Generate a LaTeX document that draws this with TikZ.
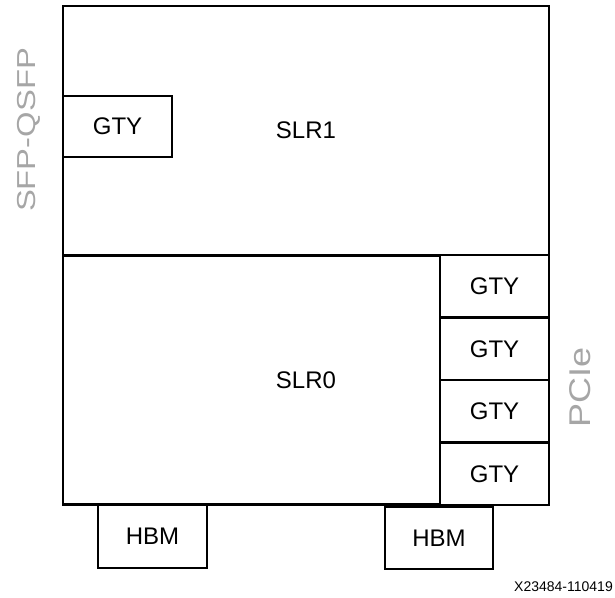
\documentclass[tikz,border=0pt]{standalone}
\usepackage{fontspec}
\setmainfont{Liberation Sans}
\usepackage{graphicx}
\definecolor{sidegray}{RGB}{166,166,166}
\tikzset{
  slrbox/.style = {draw, line width=2.7pt, inner sep=0pt, outer sep=0pt, minimum width=486, minimum height=249, font=\fontsize{24}{28}\selectfont},
  gtybox/.style = {draw, fill=white, line width=2.7pt, inner sep=0pt, outer sep=0pt, minimum width=109, minimum height=62.5, font=\fontsize{24}{28}\selectfont},
  sidelabel/.style = {rotate=90, text=sidegray, inner sep=0pt}
}
\begin{document}
\begin{tikzpicture}[x=1pt,y=-1pt]
    \useasboundingbox (0,0) rectangle (615,597);
    % the two dies
    \node[slrbox](slrOne) at (306,130.5) {SLR1};
    \node[slrbox](slrZero) at (306,380) {SLR0};

    % transceivers
    \node[gtybox, minimum height=61](gtyLeft) at (117.5,126.5) {GTY};
    \node[gtybox](gtyA) at (494.5,286.25) {GTY};
    \node[gtybox](gtyB) at (494.5,348.75) {GTY};
    \node[gtybox](gtyC) at (494.5,411.25) {GTY};
    \node[gtybox](gtyD) at (494.5,473.75) {GTY};

    % memory stacks
    \node[gtybox, minimum height=63](hbmLeft) at (152.5,536.5) {HBM};
    \node[gtybox, minimum width=108, minimum height=62](hbmRight) at (439,538) {HBM};

    % side labels
    \node[sidelabel, font=\fontsize{26}{30}\selectfont](sfp) at (29,130) {\scalebox{1.26}[1]{SFP-QSFP}};
    \node[sidelabel, font=\fontsize{30}{34}\selectfont](pcie) at (580,387) {\scalebox{1.2}[1]{PCIe}};

    \node[anchor=east, inner sep=0pt, font=\fontsize{14}{16}\selectfont](figid) at (613,587) {X23484-110419};
\end{tikzpicture}
\end{document}
